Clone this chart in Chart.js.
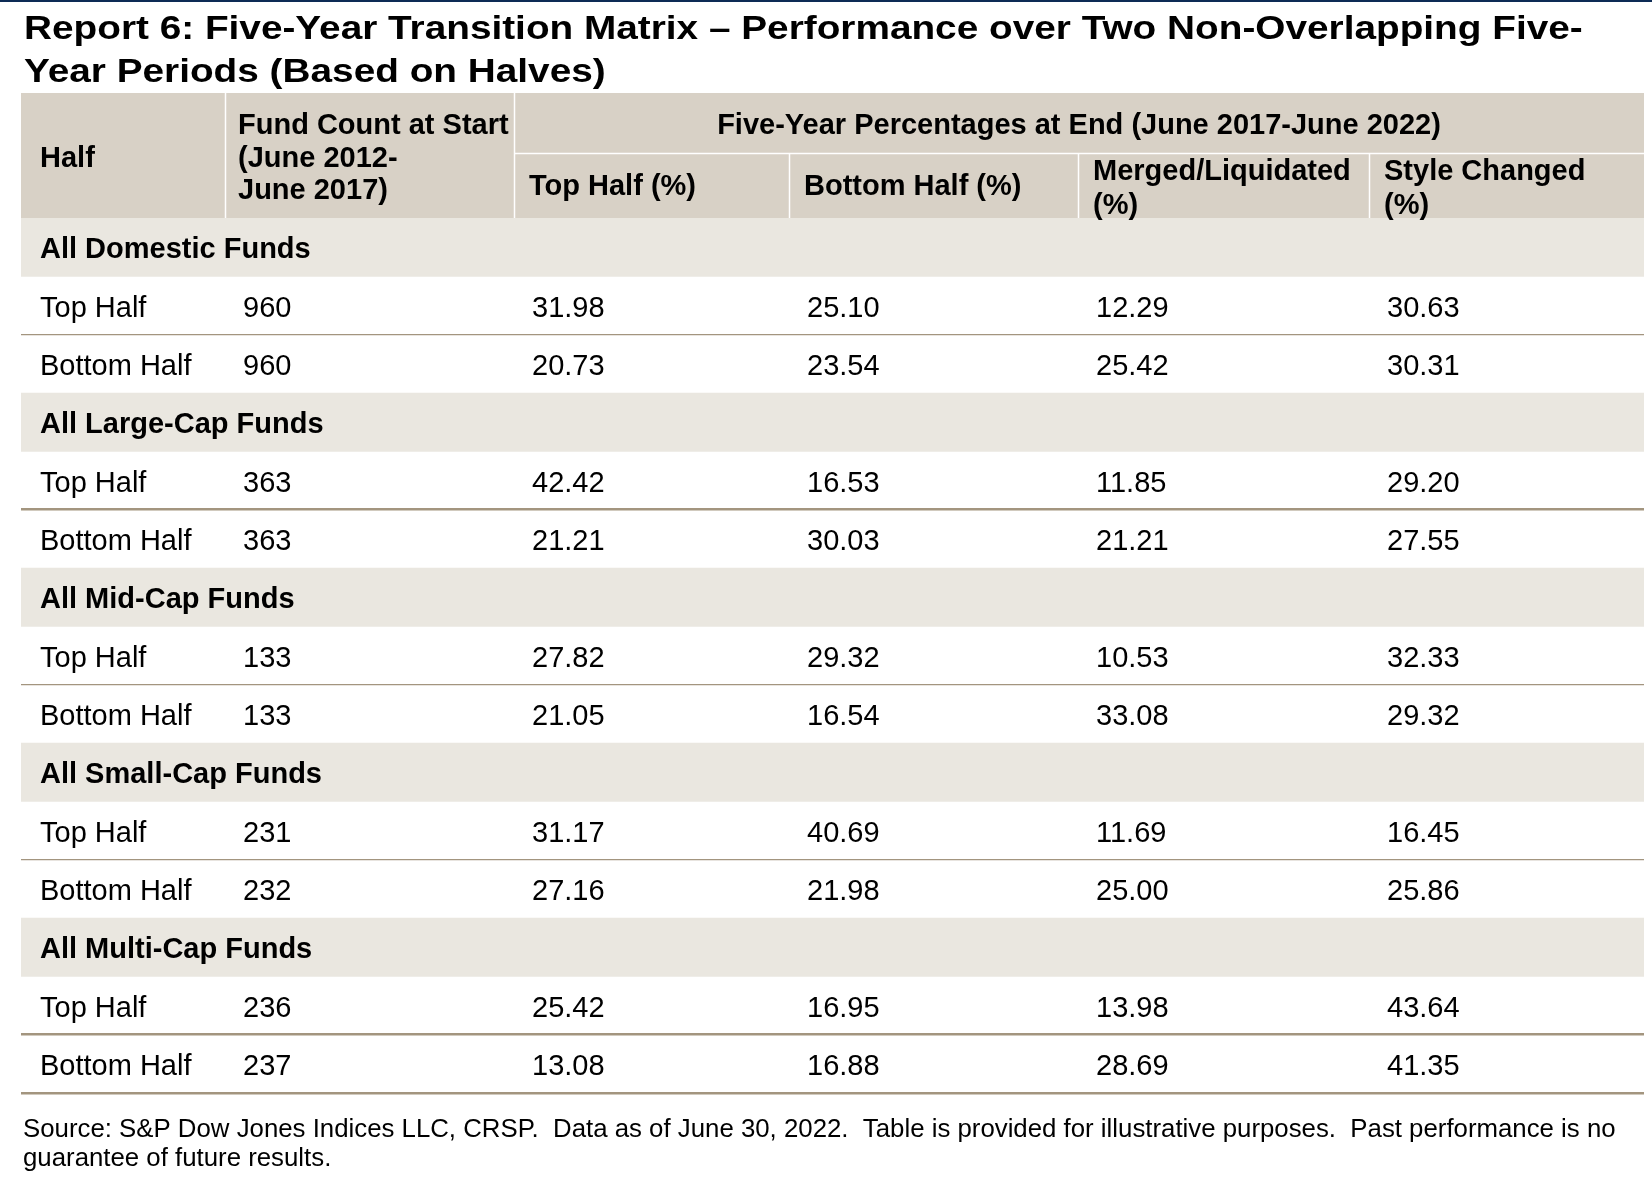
<!DOCTYPE html>
<html>
<head>
<meta charset="utf-8">
<title>Report 6: Five-Year Transition Matrix</title>
<script src="https://cdn.jsdelivr.net/npm/chart.js@4.4.1/dist/chart.umd.min.js"></script>
<style>
  html, body { margin: 0; padding: 0; background: #fff; }
  #wrap { width: 1652px; height: 1184px; position: relative; }
</style>
</head>
<body>
<div id="wrap"><canvas id="transitionChart"></canvas></div>
<script>
// text
const titleLines = [
  "Report 6: Five-Year Transition Matrix \u2013 Performance over Two Non-Overlapping Five-",
  "Year Periods (Based on Halves)"
];
const footnoteLines = [
  "Source: S&P Dow Jones Indices LLC, CRSP.  Data as of June 30, 2022.  Table is provided for illustrative purposes.  Past performance is no",
  "guarantee of future results."
];
const spanHeader = "Five-Year Percentages at End (June 2017-June 2022)";
const columnHeaders = [
  ["Half"],
  ["Fund Count at Start", "(June 2012-", "June 2017)"],
  ["Top Half (%)"],
  ["Bottom Half (%)"],
  ["Merged/Liquidated", "(%)"],
  ["Style Changed", "(%)"]
];

// data
const groups = ["All Domestic Funds", "All Large-Cap Funds", "All Mid-Cap Funds", "All Small-Cap Funds", "All Multi-Cap Funds"];
const halves = ["Top Half", "Bottom Half"];
const fundCount = [[960, 960], [363, 363], [133, 133], [231, 232], [236, 237]];
const topHalfPct = [[31.98, 20.73], [42.42, 21.21], [27.82, 21.05], [31.17, 27.16], [25.42, 13.08]];
const bottomHalfPct = [[25.10, 23.54], [16.53, 30.03], [29.32, 16.54], [40.69, 21.98], [16.95, 16.88]];
const mergedPct = [[12.29, 25.42], [11.85, 21.21], [10.53, 33.08], [11.69, 25.00], [13.98, 28.69]];
const styleChangedPct = [[30.63, 30.31], [29.20, 27.55], [32.33, 29.32], [16.45, 25.86], [43.64, 41.35]];

// look
const FONT = '"Liberation Sans", Arial, Helvetica, sans-serif';
const HEADER_BG = "#d8d1c6";
const GROUP_BG = "#eae7e0";
const RULE = "#a3957f";
const colEdges = [0, 204, 493, 768, 1057, 1348, 1623];
const headerHeight = 125;
const thickSeparator = [false, true, false, false, true];
const titleStretch = 1.14;

// one row per table line: group heading, then the two halves
const rows = [];
groups.forEach((g, gi) => {
  rows.push({ type: "group", label: g });
  halves.forEach((h, hi) => {
    rows.push({
      type: "data",
      label: h,
      group: gi,
      cells: [
        String(fundCount[gi][hi]),
        topHalfPct[gi][hi].toFixed(2),
        bottomHalfPct[gi][hi].toFixed(2),
        mergedPct[gi][hi].toFixed(2),
        styleChangedPct[gi][hi].toFixed(2)
      ]
    });
  });
});

function ruleFor(ctx) {
  // line i sits on top of row i; the extra line past the last tick is the bottom border
  const i = ctx.type === "tick" ? ctx.index : rows.length;
  if (i === rows.length) return { color: RULE, width: 2.5 };
  const above = rows[i - 1], here = rows[i];
  if (above && here && above.type === "data" && here.type === "data") {
    return { color: RULE, width: thickSeparator[above.group] ? 2.5 : 1.2 };
  }
  return { color: "rgba(0,0,0,0)", width: 1 };
}

const tablePlugin = {
  id: "tableText",
  afterDatasetsDraw(chart) {
    const { ctx, chartArea, scales: { x, y } } = chart;
    const px = v => x.getPixelForValue(v);
    const left = px(colEdges[0]), right = px(colEdges[colEdges.length - 1]);
    const hTop = chartArea.top - headerHeight;

    ctx.save();
    // thin navy rule at the very top
    ctx.fillStyle = "#0d2b55";
    ctx.fillRect(0, 0, chart.width, 2);

    // title, a little wider than the plain font
    ctx.fillStyle = "#000";
    ctx.textBaseline = "alphabetic";
    ctx.textAlign = "left";
    ctx.font = "bold 34px " + FONT;
    ctx.save();
    ctx.translate(24, 0);
    ctx.scale(titleStretch, 1);
    ctx.fillText(titleLines[0], 0, 39);
    ctx.fillText(titleLines[1], 0, 82);
    ctx.restore();

    // header block
    ctx.fillStyle = HEADER_BG;
    ctx.fillRect(left, hTop, right - left, headerHeight);
    ctx.strokeStyle = "#ffffff";
    ctx.lineWidth = 1.5;
    ctx.beginPath();
    [1, 2].forEach(c => {
      ctx.moveTo(Math.round(px(colEdges[c])) + 0.5, hTop);
      ctx.lineTo(Math.round(px(colEdges[c])) + 0.5, chartArea.top);
    });
    [3, 4, 5].forEach(c => {
      ctx.moveTo(Math.round(px(colEdges[c])) + 0.5, hTop + 60);
      ctx.lineTo(Math.round(px(colEdges[c])) + 0.5, chartArea.top);
    });
    ctx.moveTo(px(colEdges[2]), hTop + 60.5);
    ctx.lineTo(right, hTop + 60.5);
    ctx.stroke();

    ctx.fillStyle = "#000";
    ctx.font = "bold 29px " + FONT;
    ctx.fillText(columnHeaders[0][0], px(colEdges[0]) + 19, hTop + 74);
    columnHeaders[1].forEach((t, k) => ctx.fillText(t, px(colEdges[1]) + 13, hTop + 41 + k * 32.5));
    ctx.textAlign = "center";
    ctx.fillText(spanHeader, (px(colEdges[2]) + right) / 2, hTop + 41);
    ctx.textAlign = "left";
    ctx.fillText(columnHeaders[2][0], px(colEdges[2]) + 15, hTop + 102);
    ctx.fillText(columnHeaders[3][0], px(colEdges[3]) + 15, hTop + 102);
    [4, 5].forEach(c => {
      columnHeaders[c].forEach((t, k) => ctx.fillText(t, px(colEdges[c]) + 15, hTop + 87 + k * 34));
    });

    // body cells
    rows.forEach((r, i) => {
      const base = y.getPixelForValue(i) + 11;
      if (r.type === "group") {
        ctx.font = "bold 29px " + FONT;
        ctx.fillText(r.label, px(colEdges[0]) + 19, base);
      } else {
        ctx.font = "29px " + FONT;
        ctx.fillText(r.label, px(colEdges[0]) + 19, base);
        r.cells.forEach((t, c) => ctx.fillText(t, px(colEdges[c + 1]) + 18, base));
      }
    });

    // footnote
    ctx.font = "25.8px " + FONT;
    ctx.fillText(footnoteLines[0], 23, chartArea.bottom + 44);
    ctx.fillText(footnoteLines[1], 23, chartArea.bottom + 73);
    ctx.restore();
  }
};

new Chart(document.getElementById("transitionChart"), {
  type: "bar",
  data: {
    labels: rows.map(r => r.label),
    datasets: [{
      label: "row shading",
      data: rows.map(() => [colEdges[0], colEdges[colEdges.length - 1]]),
      backgroundColor: rows.map(r => r.type === "group" ? GROUP_BG : "rgba(0,0,0,0)"),
      borderWidth: 0,
      borderSkipped: false,
      barPercentage: 1,
      categoryPercentage: 1
    }]
  },
  options: {
    indexAxis: "y",
    responsive: true,
    maintainAspectRatio: false,
    animation: false,
    events: [],
    layout: { padding: { left: 21, right: 8, top: 218, bottom: 91 } },
    plugins: { legend: { display: false }, tooltip: { enabled: false } },
    scales: {
      x: {
        type: "linear",
        display: false,
        min: colEdges[0],
        max: colEdges[colEdges.length - 1]
      },
      y: {
        type: "category",
        display: true,
        ticks: { display: false },
        border: { display: false },
        grid: {
          offset: true,
          drawTicks: false,
          color: ctx => ruleFor(ctx).color,
          lineWidth: ctx => ruleFor(ctx).width
        }
      }
    }
  },
  plugins: [tablePlugin]
});
</script>
</body>
</html>
